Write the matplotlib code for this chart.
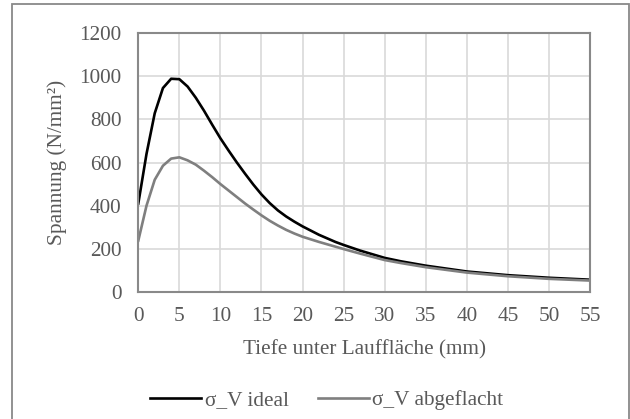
import matplotlib
matplotlib.use("Agg")
import matplotlib.pyplot as plt
from matplotlib.patches import Rectangle

depth_mm = [0, 1, 2, 3, 4, 5, 6, 7, 8, 9, 10, 11, 12, 13, 14, 15, 16, 17, 18, 19, 20,
            22, 24, 25, 27, 30, 32, 35, 40, 45, 50, 55]
sigma_ideal = [410, 640, 828, 945, 988, 986, 952, 900, 840, 775, 712, 655, 600, 548, 498, 452,
               412, 378, 350, 326, 304, 265, 232, 218, 192, 158, 142, 122, 95, 78, 66, 57]
sigma_flat = [238, 400, 520, 585, 618, 624, 610, 590, 562, 532, 500, 470, 440, 410, 382, 355,
              330, 308, 288, 271, 256, 232, 210, 199, 178, 148, 134, 115, 90, 73, 61, 53]
series_labels = ["σ_V ideal", "σ_V abgeflacht"]
x_ticks = list(range(0, 56, 5))
y_ticks = list(range(0, 1201, 200))

W, H = 630, 419
fig = plt.figure(figsize=(W / 100, H / 100), dpi=100)
plt.rcParams['font.family'] = ['Liberation Serif', 'DejaVu Serif']
text_col = "#595959"
frame_col = "#898989"
fs = 15.3

# chart-area border
fig.patches.append(Rectangle((12 / W, 1 - 440 / H), (629 - 12) / W, (440 - 4.5) / H,
                             transform=fig.transFigure, fill=False,
                             edgecolor=frame_col, linewidth=1.3))

ax = fig.add_axes([138.3 / W, 1 - 292 / H, (590 - 138.3) / W, (292 - 33) / H])
l1, = ax.plot(depth_mm, sigma_ideal, color="black", lw=1.9, label=series_labels[0])
l2, = ax.plot(depth_mm, sigma_flat, color="#7f7f7f", lw=1.9, label=series_labels[1])

ax.set_xlim(0, 55)
ax.set_ylim(0, 1200)
ax.set_xticks(x_ticks)
ax.set_yticks(y_ticks)
ax.grid(True, color="#d9d9d9", lw=1.2)
ax.set_axisbelow(True)
for s in ax.spines.values():
    s.set_color(frame_col)
    s.set_linewidth(1.5)
ax.tick_params(length=0, labelsize=fs, colors=text_col)
ax.tick_params(axis='y', pad=12)
ax.tick_params(axis='x', pad=11)

ax.set_xlabel("Tiefe unter Lauffläche (mm)", fontsize=fs, color=text_col)
ax.xaxis.label.set_va('center')
ax.xaxis.set_label_coords(0.5, (292 - 350) / 259)
ax.set_ylabel("Spannung (N/mm²)", fontsize=fs, color=text_col)
ax.yaxis.label.set_va('center')
ax.yaxis.set_label_coords((57 - 138.3) / 451.7, 0.5)

fig.legend(handles=[l1, l2], loc='center', bbox_to_anchor=(327 / W, 1 - 400 / H),
           ncol=2, frameon=False, fontsize=fs, handlelength=2.4, handletextpad=0.15,
           columnspacing=1.4, labelcolor=text_col)

fig.savefig("out.png", dpi=100)
